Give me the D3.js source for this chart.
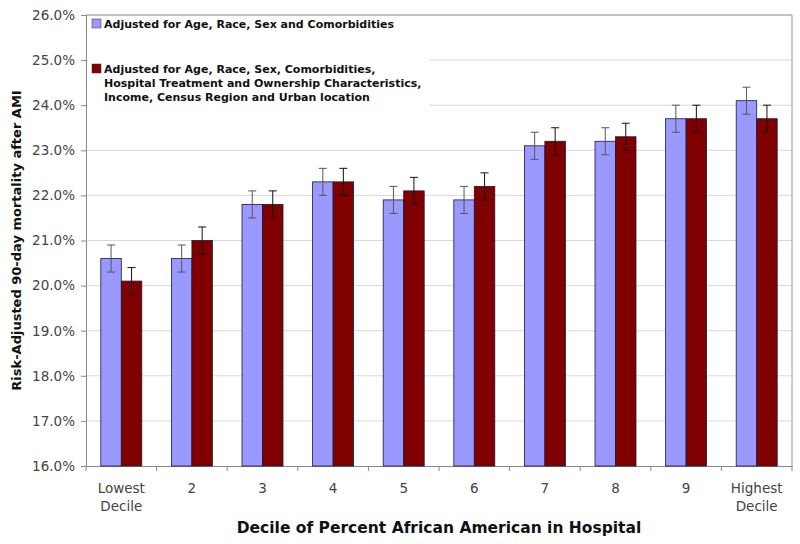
<!DOCTYPE html>
<html><head><meta charset="utf-8">
<script src="https://cdn.jsdelivr.net/npm/d3@7"></script>
<style>body{margin:0;background:#fff;} svg{display:block;font-family:"DejaVu Sans",Verdana,sans-serif;}</style>
</head><body>
<script>
const categories = ["Lowest\nDecile","2","3","4","5","6","7","8","9","Highest\nDecile"];
const seriesNames = ["Adjusted for Age, Race, Sex and Comorbidities",
  "Adjusted for Age, Race, Sex, Comorbidities,\nHospital Treatment and Ownership Characteristics,\nIncome, Census Region and Urban location"];
const basicValues = [20.6,20.6,21.8,22.3,21.9,21.9,23.1,23.2,23.7,24.1];
const fullValues  = [20.1,21.0,21.8,22.3,22.1,22.2,23.2,23.3,23.7,23.7];
const basicErr = [0.3,0.3,0.3,0.3,0.3,0.3,0.3,0.3,0.3,0.3];
const fullErr  = [0.3,0.3,0.3,0.3,0.3,0.3,0.3,0.3,0.3,0.3];
const yTicks = [16,17,18,19,20,21,22,23,24,25,26];
const colors = ["#9999FF","#800000"];
const errColors = ["#555555","#111111"];

const W=800,H=544;
const m={left:86,right:8,top:15,bottom:78};
const svg=d3.select("body").append("svg").attr("width",W).attr("height",H);
const x=d3.scaleBand().domain(d3.range(categories.length)).range([m.left,W-m.right]);
const y=d3.scaleLinear().domain([16,26]).range([H-m.bottom,m.top]);
const inner=d3.scaleBand().domain([0,1]).range([0,41]);
const off=(x.bandwidth()-41)/2;

// gridlines
svg.append("g").selectAll("line").data(yTicks.slice(1)).join("line")
  .attr("x1",m.left).attr("x2",W-m.right).attr("y1",d=>y(d)).attr("y2",d=>y(d))
  .attr("stroke","#d9d9d9").attr("stroke-width",1);

// legend background
const lg=svg.append("g");
lg.append("rect").attr("x",88).attr("y",16).attr("width",341).attr("height",96).attr("fill","#fff");

// plot border top/right
svg.append("line").attr("x1",m.left).attr("x2",W-m.right).attr("y1",y(26)).attr("y2",y(26)).attr("stroke","#999");
svg.append("line").attr("x1",W-m.right).attr("x2",W-m.right).attr("y1",y(26)).attr("y2",y(16)).attr("stroke","#999");

// y axis
const ya=svg.append("g").attr("transform",`translate(${m.left},0)`)
  .call(d3.axisLeft(y).tickValues(yTicks).tickFormat(d=>d.toFixed(1)+"%").tickSize(5).tickPadding(6));
ya.selectAll("path,line").attr("stroke","#888");
ya.selectAll("text").attr("font-size",13.5).attr("fill","#444").attr("font-family","DejaVu Sans");

// x axis
const xa=svg.append("g").attr("transform",`translate(0,${y(16)})`)
  .call(d3.axisBottom(x).tickValues([]).tickSizeOuter(0));
xa.select("path").attr("stroke","#888");
xa.selectAll("line.bt").data(d3.range(categories.length+1)).join("line")
  .attr("x1",i=>m.left+i*x.step()).attr("x2",i=>m.left+i*x.step()).attr("y1",0).attr("y2",5).attr("stroke","#888");
categories.forEach((c,i)=>{
  const t=svg.append("text").attr("x",x(i)+x.bandwidth()/2).attr("y",y(16)+27)
    .attr("text-anchor","middle").attr("font-size",13.5).attr("fill","#444");
  c.split("\n").forEach((s,k)=>t.append("tspan").attr("x",x(i)+x.bandwidth()/2).attr("dy",k?18:0).text(s));
});

// bars
const series=[basicValues,fullValues], errs=[basicErr,fullErr];
series.forEach((vals,s)=>{
  svg.append("g").selectAll("rect").data(vals).join("rect")
    .attr("x",(d,i)=>x(i)+off+inner(s)).attr("width",inner.bandwidth())
    .attr("y",d=>y(d)).attr("height",d=>y(16)-y(d))
    .attr("fill",colors[s]).attr("stroke","#1a1a3a").attr("stroke-width",0.8);
});
series.forEach((vals,s)=>{
  const g=svg.append("g").attr("stroke",errColors[s]).attr("stroke-width",1);
  vals.forEach((d,i)=>{
    const cx=x(i)+off+inner(s)+inner.bandwidth()/2;
    const e=errs[s][i];
    g.append("line").attr("x1",cx).attr("x2",cx).attr("y1",y(d+e)).attr("y2",y(d-e));
    g.append("line").attr("x1",cx-4).attr("x2",cx+4).attr("y1",y(d+e)).attr("y2",y(d+e));
    g.append("line").attr("x1",cx-4).attr("x2",cx+4).attr("y1",y(d-e)).attr("y2",y(d-e));
  });
});

// legend
const legY=[28,73];
seriesNames.forEach((n,s)=>{
  lg.append("rect").attr("x",92).attr("y",legY[s]-9).attr("width",9).attr("height",9)
    .attr("fill",colors[s]).attr("stroke","#333").attr("stroke-width",0.5);
  const t=lg.append("text").attr("x",104).attr("y",legY[s]).attr("font-size",11).attr("font-weight","bold").attr("fill","#111");
  n.split("\n").forEach((l,k)=>t.append("tspan").attr("x",104).attr("dy",k?14:0).text(l));
});

// axis titles
svg.append("text").attr("x",(m.left+W-m.right)/2).attr("y",533).attr("text-anchor","middle")
  .attr("font-size",15.5).attr("font-weight","bold").attr("fill","#111")
  .text("Decile of Percent African American in Hospital");
svg.append("text").attr("transform",`translate(21,${(y(16)+y(26))/2}) rotate(-90)`).attr("text-anchor","middle")
  .attr("font-size",13).attr("font-weight","bold").attr("fill","#111")
  .text("Risk-Adjusted 90-day mortality after AMI");
</script>
</body></html>
